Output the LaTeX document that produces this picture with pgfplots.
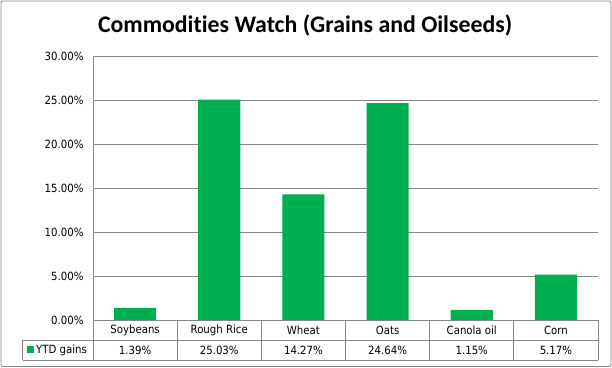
\documentclass[border=0pt]{standalone}
\usepackage{pgfplots}
\pgfplotsset{compat=1.18}
\usepackage{fontspec}
\setmainfont{DejaVu Sans Condensed}
\newfontfamily\titlefont{Carlito}[Ligatures=NoCommon]
\definecolor{barg}{RGB}{0,176,80}
\definecolor{lgray}{RGB}{134,134,134}
\begin{document}
\begin{tikzpicture}
\begin{axis}[
  at={(93bp,48bp)}, anchor=south west,
  scale only axis, width=505bp, height=264bp,
  xmin=-0.5, xmax=5.5, ymin=0, ymax=30,
  ytick={0,5,...,30},
  ymajorgrids, grid style={lgray, line width=0.8bp},
  axis x line=bottom, axis y line=left,
  axis line style={lgray, line width=0.8bp, -},
  major tick length=0pt,
  xtick={0,...,5},
  xticklabels={Soybeans,Rough Rice,Wheat,Oats,Canola oil,Corn},
  xticklabel style={anchor=center, yshift=-10bp},
  extra x ticks={0,...,5},
  extra x tick labels={1.39\%,25.03\%,14.27\%,24.64\%,1.15\%,5.17\%},
  extra x tick style={xticklabel style={yshift=-20bp}},
  yticklabel={\pgfmathprintnumber[fixed,fixed zerofill,precision=2]{\tick}\%},
  /pgf/number format/assume math mode=true,
  yticklabel style={xshift=-6bp},
  tick label style={font=\fontsize{11.3bp}{13bp}\selectfont, text=black},
  title={\titlefont\bfseries Commodities Watch (Grains and Oilseeds)},
  title style={at={(0.42,1)}, anchor=base, yshift=18bp, font=\fontsize{23.8bp}{26bp}\selectfont},
  ybar, bar width=0.5,
  legend style={at={(-0.1307,-0.1136)}, anchor=west, draw=none, fill=none,
    inner sep=0pt, font=\fontsize{11.3bp}{13bp}\selectfont},
]
\addplot[fill=barg, draw=none,
  legend image code/.code={\fill[barg] (0bp,-3.5bp) rectangle (7bp,3.5bp);}]
  coordinates {(0,1.39) (1,25.03) (2,14.27) (3,24.64) (4,1.15) (5,5.17)};
\addlegendentry{YTD gains}
\end{axis}
\begin{scope}[lgray, line width=0.8bp]
\draw (22.7bp,28bp) -- (598bp,28bp);
\draw (22.7bp,8bp) -- (598bp,8bp);
\draw (22.7bp,28bp) -- (22.7bp,8bp);
\foreach \x in {93,177.1667,261.3333,345.5,429.6667,513.8333,598}
  \draw (\x bp,48bp) -- (\x bp,8bp);
\draw[rounded corners=2bp] (1bp,1.5bp) rectangle (611bp,367bp);
\end{scope}
\pgfresetboundingbox
\path[use as bounding box] (0,0) rectangle (612bp,368bp);
\end{tikzpicture}
\end{document}
